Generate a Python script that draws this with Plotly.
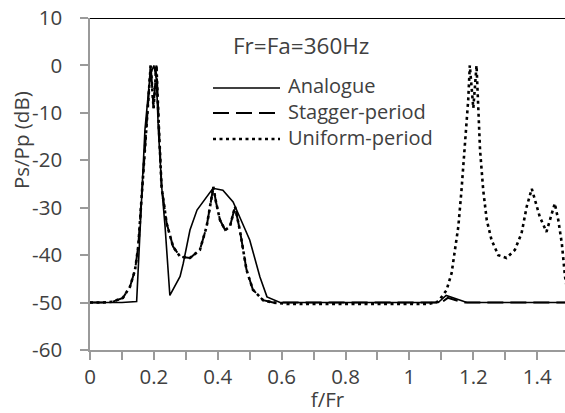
import plotly.graph_objects as go

# Normalised frequency f/Fr and spectral level Ps/Pp (dB) for each scheme
analogue_f = [0, 0.10, 0.146, 0.160, 0.172, 0.188, 0.200, 0.208, 0.214, 0.225, 0.235,
              0.250, 0.265, 0.282, 0.292, 0.313, 0.335, 0.366, 0.385, 0.416, 0.448,
              0.469, 0.500, 0.532, 0.554, 0.595, 1.090, 1.115, 1.160, 1.180, 1.500]
analogue_db = [-50, -50, -49.8, -30, -13.6, -2, 0, -3, -13.6, -26, -34,
               -48.5, -46.5, -44.5, -41.7, -34.7, -30.5, -27.7, -25.9, -26.3, -28.8,
               -32, -36.8, -44.6, -48.8, -50, -50, -48.5, -49.6, -50, -50]

stagger_f = [0, 0.040, 0.072, 0.103, 0.125, 0.141, 0.151, 0.162, 0.172, 0.182, 0.190,
             0.199, 0.208, 0.216, 0.224, 0.240, 0.260, 0.282, 0.313, 0.344, 0.365,
             0.381, 0.386, 0.395, 0.407, 0.423, 0.438, 0.454, 0.469, 0.490, 0.510,
             0.542, 0.573, 1.100, 1.120, 1.170, 1.500]
stagger_db = [-50, -50, -49.8, -49, -46.7, -43.1, -38.2, -27.7, -17.8, -7, 0,
              -9, 0, -13.6, -25.6, -33.3, -38.2, -40.3, -40.6, -38.9, -34,
              -27.7, -25.6, -29, -32.6, -34.7, -34, -29.8, -34.7, -43.1, -47.3,
              -49.5, -50, -50, -49, -50, -50]

uniform_f = [0, 0.040, 0.072, 0.103, 0.125, 0.141, 0.151, 0.162, 0.172, 0.182, 0.190,
             0.199, 0.208, 0.216, 0.224, 0.240, 0.260, 0.282, 0.313, 0.344, 0.365,
             0.381, 0.386, 0.395, 0.407, 0.423, 0.438, 0.454, 0.469, 0.490, 0.510,
             0.542, 0.573, 0.620, 1.060, 1.090, 1.116, 1.132, 1.142, 1.153, 1.163,
             1.174, 1.184, 1.189, 1.200, 1.210, 1.221, 1.231, 1.242, 1.257, 1.278,
             1.304, 1.330, 1.351, 1.367, 1.383, 1.393, 1.408, 1.429, 1.445, 1.455,
             1.466, 1.477, 1.487, 1.500]
uniform_db = [-50, -50, -49.8, -49, -46.7, -43.1, -38.2, -27.7, -17.8, -7, 0,
              -9, 0, -13.6, -25.6, -33.3, -38.2, -40.3, -40.6, -38.9, -34,
              -27.7, -25.6, -29, -32.6, -34.7, -34, -29.8, -34.7, -43.1, -47.3,
              -49.5, -50, -50.3, -50.3, -49.8, -47.4, -43.8, -39.6, -34, -26.3,
              -16.4, -7.3, 0, -9, 0, -17.8, -26.3, -32.6, -36.8, -40,
              -40.6, -38.9, -35.4, -29.8, -26, -28.4, -31.9, -35.1, -31.2, -29.1,
              -32.6, -37.5, -44.5, -50]

series_names = ["Analogue", "Stagger-period", "Uniform-period"]
x_ticks = [0, 0.2, 0.4, 0.6, 0.8, 1.0, 1.2, 1.4]
x_tick_text = ["0", "0.2", "0.4", "0.6", "0.8", "1", "1.2", "1.4"]
y_ticks = [10, 0, -10, -20, -30, -40, -50, -60]
y_tick_text = ["10", "0", "-10", "-20", "-30", "-40", "-50", "-60"]

FONT = "Open Sans"
FS = 20.5
LEG_FS = 20
TITLE_FS = 22.5
TEXT = "#404040"
AXIS = "#9a9a9a"

styles = [
    dict(color="black", width=1.6, dash="solid"),
    dict(color="black", width=2.0, dash="16px,7px"),
    dict(color="black", width=2.6, dash="3px,3.5px"),
]

fig = go.Figure()
for name, xs, ys, st in zip(series_names,
                            [analogue_f, stagger_f, uniform_f],
                            [analogue_db, stagger_db, uniform_db],
                            styles):
    fig.add_trace(go.Scatter(x=xs, y=ys, mode="lines", name=name,
                             line=st, showlegend=False))

# plot-area geometry in pixels (for placing legend / labels in paper units)
L, R, T, B = 90, 565, 18, 350
def px(x):
    return (x - L) / (R - L)
def py(y):
    return (B - y) / (B - T)

shapes = [
    # dark frame line along the top of the plot area
    dict(type="line", xref="paper", yref="y", x0=0, x1=1, y0=10, y1=10,
         line=dict(color="black", width=2)),
]
annotations = [
    dict(text="Fr=Fa=360Hz", xref="paper", yref="paper", x=px(231), y=py(45),
         xanchor="left", yanchor="middle", showarrow=False,
         font=dict(family=FONT, size=TITLE_FS, color=TEXT)),
    dict(text="Ps/Pp (dB)", xref="paper", yref="paper", x=px(21), y=py(140),
         xanchor="center", yanchor="middle", textangle=-90, showarrow=False,
         font=dict(family=FONT, size=FS, color=TEXT)),
    # legend labels as one block, one row per series
    dict(text="<br>".join(series_names), xref="paper", yref="paper",
         x=px(286), y=py(112), xanchor="left", yanchor="middle", align="left",
         showarrow=False, font=dict(family=FONT, size=LEG_FS, color=TEXT)),
]

# legend line samples
legend_rows = [88, 113, 139]
for st, yr in zip(styles, legend_rows):
    shapes.append(dict(type="line", xref="paper", yref="paper",
                       x0=px(213), x1=px(280), y0=py(yr), y1=py(yr), line=st))

fig.update_layout(
    width=565, height=413,
    margin=dict(l=L, r=565 - R, t=T, b=413 - B),
    paper_bgcolor="white", plot_bgcolor="white",
    font=dict(family=FONT, size=FS, color=TEXT),
    shapes=shapes, annotations=annotations,
    showlegend=False,
)
fig.update_xaxes(
    range=[0, 1.487], tickvals=x_ticks, ticktext=x_tick_text,
    ticks="outside", ticklen=8, tickwidth=1.5, tickcolor=AXIS,
    minor=dict(dtick=0.1, tick0=0, ticks="outside", ticklen=8, tickwidth=1.5, tickcolor=AXIS),
    showline=True, linecolor=AXIS, linewidth=1.5,
    showgrid=False, zeroline=False,
    title=dict(text="f/Fr", font=dict(family=FONT, size=FS, color=TEXT), standoff=0),
    tickfont=dict(family=FONT, size=FS, color=TEXT),
)
fig.update_yaxes(
    range=[-60, 10], tickvals=y_ticks, ticktext=y_tick_text,
    ticks="outside", ticklen=8, tickwidth=1.5, tickcolor=AXIS,
    showline=True, linecolor=AXIS, linewidth=1.5,
    showgrid=False, zeroline=False,
    tickfont=dict(family=FONT, size=FS, color=TEXT),
    ticklabelstandoff=14,
)

fig.write_html("out.html")
